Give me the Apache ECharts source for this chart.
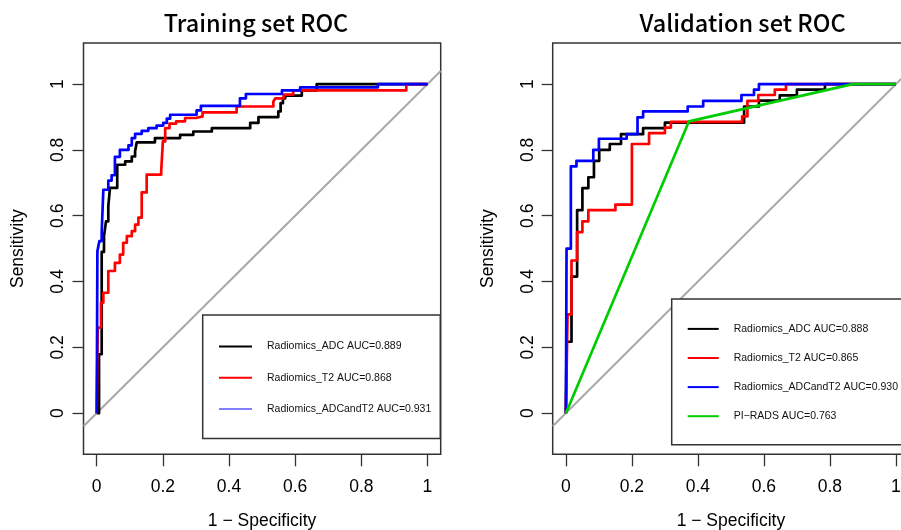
<!DOCTYPE html>
<html>
<head>
<meta charset="utf-8">
<script src="https://cdn.jsdelivr.net/npm/echarts@6/dist/echarts.min.js"></script>
<style>
html,body{margin:0;padding:0;background:#fff;}
#chart{width:901px;height:530px;}
</style>
</head>
<body>
<div id="chart"></div>
<script>
// ---- data: [1 - specificity, sensitivity] ROC vertices ----
const trainADC = [[0,0],[0.007,0.179],[0.015,0.49],[0.022,0.538],[0.028,0.583],[0.035,0.629],[0.04,0.685],[0.062,0.755],[0.086,0.765],[0.106,0.78],[0.116,0.796],[0.121,0.823],[0.176,0.836],[0.252,0.846],[0.292,0.856],[0.348,0.866],[0.464,0.882],[0.489,0.9],[0.549,0.917],[0.556,0.942],[0.563,0.957],[0.57,0.965],[0.62,0.981],[0.665,1],[1,1]];
const trainT2 = [[0,0],[0.003,0.26],[0.013,0.336],[0.02,0.366],[0.035,0.432],[0.055,0.457],[0.07,0.482],[0.08,0.518],[0.091,0.538],[0.106,0.553],[0.116,0.573],[0.126,0.594],[0.136,0.671],[0.151,0.725],[0.195,0.738],[0.2,0.826],[0.207,0.866],[0.22,0.88],[0.24,0.887],[0.267,0.897],[0.3,0.902],[0.32,0.914],[0.423,0.932],[0.534,0.947],[0.54,0.957],[0.565,0.968],[0.594,0.981],[0.936,1],[1,1]];
const trainBoth = [[0,0],[0.002,0.492],[0.008,0.523],[0.015,0.55],[0.02,0.679],[0.035,0.707],[0.045,0.723],[0.055,0.779],[0.07,0.8],[0.096,0.814],[0.106,0.836],[0.116,0.849],[0.136,0.858],[0.156,0.866],[0.181,0.874],[0.201,0.882],[0.212,0.895],[0.222,0.907],[0.302,0.92],[0.315,0.934],[0.433,0.957],[0.451,0.97],[0.56,0.981],[0.615,0.99],[0.85,1],[1,1]];

const valADC = [[0,0],[0.002,0.217],[0.017,0.415],[0.034,0.617],[0.05,0.684],[0.068,0.717],[0.085,0.767],[0.101,0.8],[0.133,0.818],[0.167,0.848],[0.234,0.866],[0.3,0.883],[0.54,0.932],[0.585,0.95],[0.648,0.966],[0.7,0.983],[0.785,1],[1,1]];
const valT2 = [[0,0],[0.005,0.3],[0.017,0.464],[0.034,0.55],[0.05,0.583],[0.068,0.617],[0.15,0.634],[0.2,0.818],[0.252,0.851],[0.3,0.868],[0.318,0.885],[0.534,0.902],[0.55,0.949],[0.583,0.967],[0.633,0.983],[0.667,1],[1,1]];
const valBoth = [[0,0],[0.002,0.5],[0.015,0.75],[0.032,0.767],[0.083,0.8],[0.1,0.834],[0.184,0.848],[0.217,0.899],[0.234,0.917],[0.369,0.932],[0.416,0.949],[0.532,0.967],[0.57,0.983],[0.585,1],[1,1]];
const valPIRADS = [[0,0],[0.373,0.887],[0.869,1],[1,1]];

const diagonal = [[-0.04,-0.04],[1.04,1.04]];

const trainNames = ['Radiomics_ADC AUC=0.889','Radiomics_T2 AUC=0.868','Radiomics_ADCandT2 AUC=0.931'];
const valNames = ['Radiomics_ADC AUC=0.888','Radiomics_T2 AUC=0.865','Radiomics_ADCandT2 AUC=0.930','PI\u2212RADS AUC=0.763'];
const titles = ['Training set ROC','Validation set ROC'];
const xTicks = [0,0.2,0.4,0.6,0.8,1];
const yTicks = [0,0.2,0.4,0.6,0.8,1];
const xLabel = '1 \u2212 Specificity';
const yLabel = 'Sensitivity';

// ---- styling ----
const AX_FONT = '"Liberation Sans", Arial, sans-serif';
const COL = {black:'#000000', red:'#ff0000', blue:'#0000ff', green:'#00cd00', gray:'#a8a8a8'};
const fmt = v => String(+(+v).toFixed(2));

function xAxis(gi){
  return {type:'value', gridIndex:gi, min:-0.04, max:1.04,
    splitLine:{show:false}, axisLine:{show:false, onZero:false},
    axisTick:{show:true, customValues:xTicks, length:12, lineStyle:{color:'#333', width:1.3}},
    axisLabel:{customValues:xTicks, formatter:fmt, margin:24, fontSize:17.5, color:'#000', fontFamily:AX_FONT},
    name:xLabel, nameLocation:'middle', nameGap:58,
    nameTextStyle:{fontSize:17.5, color:'#000', fontFamily:AX_FONT}};
}
function yAxis(gi){
  return {type:'value', gridIndex:gi, min:-0.125, max:1.125,
    splitLine:{show:false}, axisLine:{show:false, onZero:false},
    axisTick:{show:true, customValues:yTicks, length:11, lineStyle:{color:'#333', width:1.3}},
    axisLabel:{customValues:yTicks, formatter:fmt, margin:16, rotate:90, fontSize:17.5, color:'#000', fontFamily:AX_FONT},
    name:yLabel, nameLocation:'middle', nameGap:56, nameRotate:90,
    nameTextStyle:{fontSize:17.5, color:'#000', fontFamily:AX_FONT}};
}
function roc(name, data, color, gi, step){
  return {type:'line', name, data, xAxisIndex:gi, yAxisIndex:gi, step: step ? 'end' : false,
    symbol:'none', showSymbol:false, silent:true, animation:false,
    lineStyle:{color, width:2.7, join:'round'}, itemStyle:{color}};
}
function diag(gi){
  return {type:'line', data:diagonal, xAxisIndex:gi, yAxisIndex:gi, symbol:'none', silent:true,
    animation:false, lineStyle:{color:COL.gray, width:2}};
}
function legend(names, colors, widths, pos){
  return Object.assign({orient:'vertical', selectedMode:false,
    data:names.map((n,i)=>({name:n, lineStyle:{color:colors[i], width:widths[i]},
      itemStyle:{color:'rgba(0,0,0,0)', borderWidth:0, opacity:0}})),
    borderColor:'#333', borderWidth:1.5, borderRadius:0, backgroundColor:'#fff',
    textStyle:{fontSize:10.5, fontFamily:AX_FONT, color:'#111', padding:[0,0,0,10]}}, pos);
}

const chart = echarts.init(document.getElementById('chart'), null, {renderer:'canvas'});
chart.setOption({
  animation:false,
  backgroundColor:'#fff',
  grid:[
    {left:83.5, top:43, width:357.2, height:411.3, show:true, borderColor:'#333', borderWidth:1.5, containLabel:false, outerBoundsMode:'none'},
    {left:552.7, top:43, width:356.4, height:411.3, show:true, borderColor:'#333', borderWidth:1.5, containLabel:false, outerBoundsMode:'none'}
  ],
  xAxis:[xAxis(0), xAxis(1)],
  yAxis:[yAxis(0), yAxis(1)],
  legend:[
    legend(trainNames, [COL.black, COL.red, COL.blue], [2,2,1],
      {left:202.7, top:315, itemWidth:33, itemHeight:14, itemGap:20, padding:[26,9,24,15.3]}),
    legend(valNames, [COL.black, COL.red, COL.blue, COL.green], [2,2,2,2],
      {left:671.7, top:299, itemWidth:31, itemHeight:14, itemGap:17.9, padding:[24.3,11,23,15]})
  ],
  graphic:[
    {type:'text', x:256, y:23, style:{text:titles[0], fontSize:23.5, fontWeight:500, fontFamily:'"Noto Sans CJK SC", sans-serif', fill:'#000', align:'center', verticalAlign:'middle'}},
    {type:'text', x:742.5, y:23, style:{text:titles[1], fontSize:23.5, fontWeight:500, fontFamily:'"Noto Sans CJK SC", sans-serif', fill:'#000', align:'center', verticalAlign:'middle'}}
  ],
  series:[
    diag(0),
    roc(trainNames[0], trainADC, COL.black, 0, true),
    roc(trainNames[1], trainT2, COL.red, 0, true),
    roc(trainNames[2], trainBoth, COL.blue, 0, true),
    diag(1),
    roc(valNames[0], valADC, COL.black, 1, true),
    roc(valNames[1], valT2, COL.red, 1, true),
    roc(valNames[2], valBoth, COL.blue, 1, true),
    roc(valNames[3], valPIRADS, COL.green, 1, false)
  ]
});
</script>
</body>
</html>
